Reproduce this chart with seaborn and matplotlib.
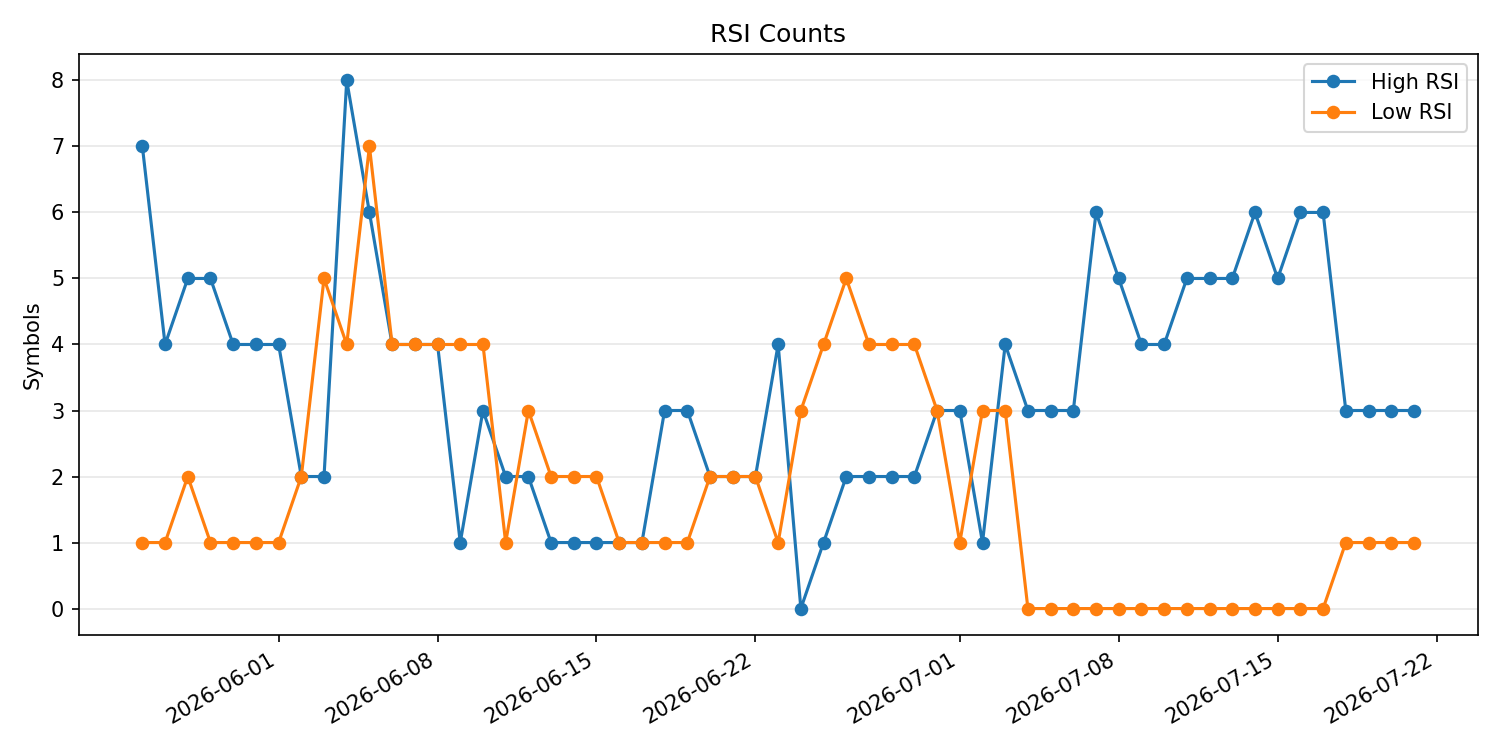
import pandas as pd
import numpy as np

import matplotlib.pyplot as plt
import seaborn as sns

dates = pd.date_range("2026-05-26", "2026-07-21", freq="D")

high_rsi = [7, 4, 5, 5, 4, 4, 4, 2, 2, 8, 6, 4, 4, 4, 1, 3, 2, 2, 1, 1,
            1, 1, 1, 3, 3, 2, 2, 2, 4, 0, 1, 2, 2, 2, 2, 3, 3, 1, 4, 3,
            3, 3, 6, 5, 4, 4, 5, 5, 5, 6, 5, 6, 6, 3, 3, 3, 3]
low_rsi = [1, 1, 2, 1, 1, 1, 1, 2, 5, 4, 7, 4, 4, 4, 4, 4, 1, 3, 2, 2,
           2, 1, 1, 1, 1, 2, 2, 2, 1, 3, 4, 5, 4, 4, 4, 3, 1, 3, 3, 0,
           0, 0, 0, 0, 0, 0, 0, 0, 0, 0, 0, 0, 0, 1, 1, 1, 1]

df = pd.DataFrame({"date": dates, "High RSI": high_rsi, "Low RSI": low_rsi})
long_df = df.melt(id_vars="date", var_name="series", value_name="count")

fig, ax = plt.subplots(figsize=(10, 5), dpi=150)

sns.lineplot(data=long_df, x="date", y="count", hue="series",
             marker="o", markersize=6.5, markeredgewidth=0,
             palette=["#1f77b4", "#ff7f0e"], ax=ax)

ax.set_title("RSI Counts")
ax.set_xlabel("")
ax.set_ylabel("Symbols")
ax.grid(axis="y", alpha=0.3)
ax.legend(title=None, loc="upper right")
fig.autofmt_xdate()
plt.tight_layout()
plt.savefig("out.png")
